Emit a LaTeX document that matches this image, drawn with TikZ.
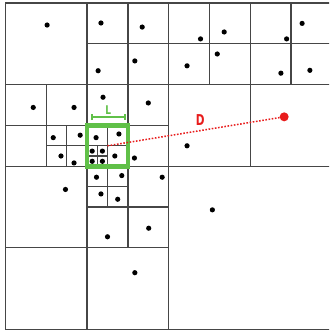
\documentclass[tikz,border=0pt]{standalone}
\usepackage{fontspec}
\usetikzlibrary{arrows.meta}
\newfontfamily\lblfont{DejaVu Sans}
\definecolor{gridgray}{RGB}{70,70,70}
\definecolor{boxgreen}{RGB}{96,192,72}
\definecolor{dred}{RGB}{232,28,28}
\begin{document}
\begin{tikzpicture}[x=40.8pt,y=-40.8pt,
  gridline/.style={draw=gridgray,line width=1.3pt},
  ptdot/.style={fill=black},
  focusbox/.style={draw=boxgreen,line width=4.5pt,minimum width=41pt,minimum height=41pt,inner sep=0pt,outer sep=0pt},
  dimline/.style={draw=boxgreen,line width=1.5pt,{Bar[width=6pt]}-{Bar[width=6pt]}},
  dimlabel/.style={text=boxgreen,font=\lblfont\bfseries\fontsize{12}{12}\selectfont,inner sep=0pt},
  distline/.style={draw=dred,line width=1.5pt,dash pattern=on 1.6pt off 1.6pt},
  distlabel/.style={text=dred,font=\lblfont\bfseries\fontsize{15}{15}\selectfont,inner sep=0pt},
  targetdot/.style={circle,fill=dred,minimum size=9pt,inner sep=0pt}]
\useasboundingbox (-0.1348,-0.0735) rectangle (7.9289,8.0392);
\clip (-0.1348,-0.0735) rectangle (7.9289,8.0392);
% grid
\draw[gridline] (0,0) rectangle (8,8);
\draw[gridline] (4,0)--(4,8) (0,4)--(8,4)
  (2,0)--(2,8) (0,2)--(8,2)
  (3,0)--(3,6) (0,3)--(4,3)
  (1,2)--(1,4) (2,1)--(8,1)
  (5,0)--(5,2) (6,0)--(6,4) (7,0)--(7,2)
  (0,6)--(4,6) (2,5)--(4,5)
  (2.5,3)--(2.5,5) (2,4.5)--(3,4.5)
  (1.5,3)--(1.5,4) (1,3.5)--(3,3.5)
  (2.25,3.5)--(2.25,4) (2,3.75)--(2.5,3.75);
% points
\foreach \p in {(1.02,0.54),(2.34,0.49),(3.35,0.59),(3.17,1.42),(2.27,1.66),
  (0.68,2.56),(1.68,2.56),(2.39,2.31),(3.5,2.45),
  (1.17,3.3),(1.83,3.24),(1.36,3.75),(1.68,3.92),
  (2.22,3.3),(2.78,3.21),(2.68,3.75),
  (2.125,3.63),(2.375,3.63),(2.125,3.88),(2.375,3.88),
  (3.16,3.8),
  (4.78,0.88),(5.36,0.71),(6.89,0.88),(7.27,0.5),(5.19,1.25),(4.45,1.54),(6.75,1.72),(7.46,1.65),(4.45,3.5),
  (1.47,4.57),(2.23,4.27),(2.85,4.23),(2.34,4.68),(2.75,4.81),(3.84,4.27),(2.5,5.73),(3.51,5.52),(3.17,6.61),(5.07,5.07)}
  \fill[ptdot] \p circle (2.6pt);
% focus cell
\node[focusbox] (cell) at (2.5,3.5) {};
\coordinate (dimL) at (2.1,2.8);
\coordinate (dimR) at (2.95,2.8);
\draw[dimline] (dimL) -- (dimR);
\node[dimlabel] (lab) at (2.52,2.62) {\scalebox{0.75}[1]{L}};
% distance
\coordinate (start) at (2.5,3.5);
\node[targetdot] (target) at (6.83,2.79) {};
\draw[distline] (start) -- (target);
\node[distlabel] (dlab) at (4.77,2.88) {\scalebox{0.7}[1]{D}};
\end{tikzpicture}
\end{document}
